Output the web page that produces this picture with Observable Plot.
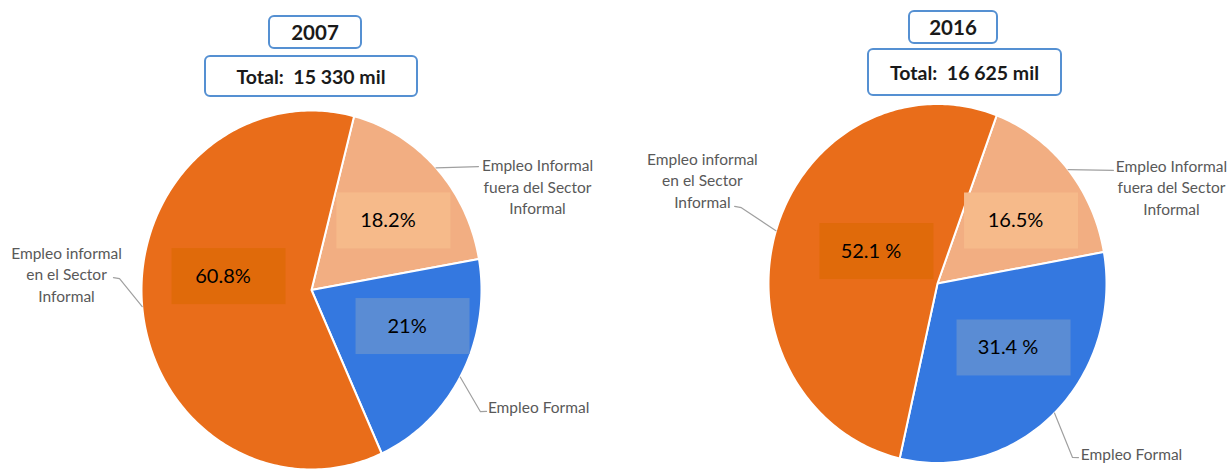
<!DOCTYPE html>
<html><head><meta charset="utf-8">
<script src="https://cdn.jsdelivr.net/npm/d3@7"></script>
<script src="https://cdn.jsdelivr.net/npm/@observablehq/plot@0.6"></script>
<style>
body{margin:0;background:#fff;font-family:Lato,"Open Sans",sans-serif;}
#wrap{position:relative;width:1231px;height:470px;overflow:hidden;background:#fff;}
.tbox{position:absolute;box-sizing:border-box;border:2px solid #5590d2;border-radius:6px;background:#fff;display:flex;align-items:center;justify-content:center;font-weight:bold;color:#1a1a1a;white-space:pre;font-family:Lato,sans-serif;}
#plots{position:absolute;left:0;top:100px;display:flex;}
</style></head><body>
<div id="wrap"><div id="plots"></div></div>
<script>
// ---- data ----
const years = ["2007", "2016"];
const totals = ["Total:  15 330 mil", "Total:  16 625 mil"];
const categories = ["fuera", "formal", "sector"];
const categoryLabels = ["Empleo Informal\nfuera del Sector\nInformal", "Empleo Formal", "Empleo informal\nen el Sector\nInformal"];
const categoryLabels2016 = ["Empleo Informal\nfuera del Sector\nInformal", "Empleo Formal", "Empleo informal\nen el Sector\nInformal"];
const values2007 = [18.2, 21, 60.8];
const values2016 = [16.5, 31.4, 52.1];
const pctLabels2007 = ["18.2%", "21%", "60.8%"];
const pctLabels2016 = ["16.5%", "31.4 %", "52.1 %"];

// ---- styles ----
const sliceColors = ["#F2AE82", "#3478E0", "#E96D1A"];
const boxColors = ["#F6BA8A", "#5A8CD4", "#E06A0A"];

// ---- layout ----
const H = 370;
const titleLayout = [
  {year: {left: 268, top: 15, w: 94, h: 34}, total: {left: 204, top: 55, w: 214, h: 42}},
  {year: {left: 908, top: 10, w: 90, h: 34}, total: {left: 867, top: 48, w: 195, h: 48}}
];
const pieLayout = [
  {width: 615, cx: 311, cy: 189.5, rx: 170, ry: 179.5, start: 14.5,
   nudge: [[4.3, .619], [-9.0, .631], [13.7, .491]],
   ext: [
     {text: [66.4, 1.451], leader: [[47.1, 1], [55.0, 1.199]]},
     {text: [115.9, 1.485], leader: [[119.0, 1], [124.3, 1.203], [123.3, 1.232]]},
     {text: [273.7, 1.444], leader: [[264.7, 1], [273.2, 1.131], [273.4, 1.167]]}
   ]},
  {width: 616, cx: 322, cy: 183, rx: 169, ry: 179.5, start: 20.5,
   nudge: [[4.8, .607], [-8.0, .578], [9.7, .400]],
   ext: [
     {text: [68.7, 1.486], leader: [[50.6, 1], [58.8, 1.217]]},
     {text: [129.5, 1.488], leader: [[136.2, 1], [140.5, 1.256], [139.3, 1.279]]},
     {text: [292.6, 1.507], leader: [[287.1, 1], [290.0, 1.235], [289.7, 1.275]]}
   ]}
];

const rad = Math.PI / 180;
const polar = (deg, r) => ({u: r * Math.sin(deg * rad), v: r * Math.cos(deg * rad)});

const wrap = document.getElementById("wrap");
years.forEach((y, i) => {
  const L = titleLayout[i];
  const a = document.createElement("div");
  a.className = "tbox"; a.textContent = y;
  Object.assign(a.style, {left: L.year.left + "px", top: L.year.top + "px", width: L.year.w + "px", height: L.year.h + "px", fontSize: "20.5px"});
  wrap.appendChild(a);
  const b = document.createElement("div");
  b.className = "tbox"; b.textContent = totals[i];
  Object.assign(b.style, {left: L.total.left + "px", top: L.total.top + "px", width: L.total.w + "px", height: L.total.h + "px", fontSize: "19.5px"});
  wrap.appendChild(b);
});

function pie(values, pctLabels, extLabels, P) {
  const arcs = d3.pie().sort(null).value(d => d)
    .startAngle(P.start * rad).endAngle(P.start * rad + 2 * Math.PI)(values);
  const pts = [];
  const boxes = [];
  const leaders = [];
  const texts = [];
  arcs.forEach((a, i) => {
    const n = Math.max(2, Math.ceil((a.endAngle - a.startAngle) / rad));
    pts.push({u: 0, v: 0, k: i, color: sliceColors[i]});
    for (let j = 0; j <= n; j++) {
      const t = a.startAngle + (a.endAngle - a.startAngle) * j / n;
      pts.push({u: Math.sin(t), v: Math.cos(t), k: i, color: sliceColors[i]});
    }
    pts.push({u: 0, v: 0, k: i, color: sliceColors[i]});
    const mid = (a.startAngle + a.endAngle) / 2 / rad;
    const c = polar(mid + P.nudge[i][0], P.nudge[i][1]);
    const hw = 57 / P.rx, hh = 28 / P.ry;
    boxes.push({...c, x1: c.u - hw, x2: c.u + hw, y1: c.v - hh, y2: c.v + hh, color: boxColors[i], label: pctLabels[i]});
    P.ext[i].leader.forEach(([d, r]) => leaders.push({...polar(d, r), k: i}));
    texts.push({...polar(...P.ext[i].text), label: extLabels[i]});
  });
  const xd = [-P.cx / P.rx, (P.width - P.cx) / P.rx];
  const yd = [-(H - P.cy) / P.ry, P.cy / P.ry];
  return Plot.plot({
    width: P.width, height: H,
    margin: 0,
    x: {domain: xd, axis: null},
    y: {domain: yd, axis: null},
    color: {type: "identity"},
    style: {background: "transparent", fontFamily: "Lato, sans-serif", overflow: "visible"},
    marks: [
      Plot.line(pts, {x: "u", y: "v", z: "k", fill: "color", stroke: "white", strokeWidth: 2, strokeLinejoin: "round", curve: "linear"}),
      Plot.rect(boxes, {x1: "x1", x2: "x2", y1: "y1", y2: "y2", fill: "color"}),
      Plot.text(boxes, {x: "u", y: "v", text: "label", fill: "#000", fontSize: 20, dx: -6}),
      Plot.line(leaders, {x: "u", y: "v", z: "k", stroke: "#a0a0a0", strokeWidth: 1.2}),
      Plot.text(texts, {x: "u", y: "v", text: "label", fill: "#595959", fontSize: 15.5, lineHeight: 1.38, textAnchor: "middle"})
    ]
  });
}

const plots = document.getElementById("plots");
plots.appendChild(pie(values2007, pctLabels2007, categoryLabels, pieLayout[0]));
plots.appendChild(pie(values2016, pctLabels2016, categoryLabels2016, pieLayout[1]));
</script>
</body></html>
